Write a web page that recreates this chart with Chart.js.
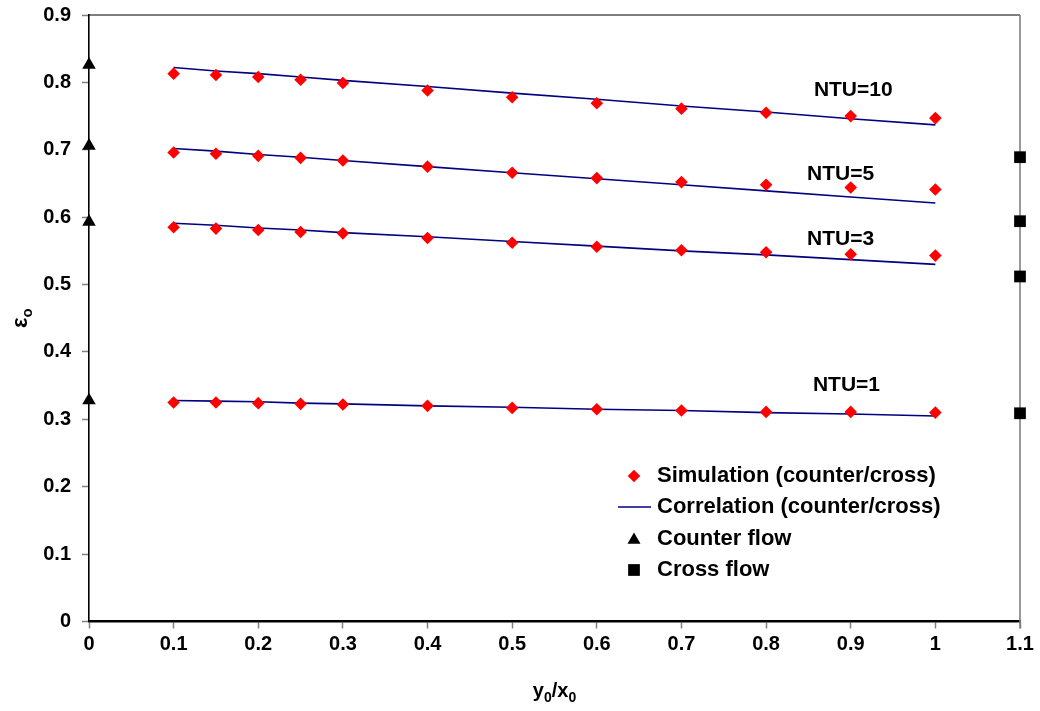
<!DOCTYPE html>
<html>
<head>
<meta charset="utf-8">
<script src="https://cdn.jsdelivr.net/npm/chart.js@4/dist/chart.umd.min.js"></script>
<style>
  body { margin: 0; background: #fff; }
  #wrap { width: 1040px; height: 711px; }
</style>
</head>
<body>
<div id="wrap"><canvas id="chartEff" width="1040" height="711"></canvas></div>
<script>
const FONT = "'Liberation Sans', Arial, sans-serif";

// y0/x0 values where simulations and correlations were evaluated
const ratios = [0.1, 0.15, 0.2, 0.25, 0.3, 0.4, 0.5, 0.6, 0.7, 0.8, 0.9, 1.0];

// simulated effectiveness (counter/cross)
const sim10 = [0.813, 0.811, 0.808, 0.804, 0.799, 0.788, 0.778, 0.769, 0.761, 0.755, 0.750, 0.747];
const sim5  = [0.696, 0.694, 0.691, 0.688, 0.684, 0.675, 0.666, 0.658, 0.652, 0.648, 0.644, 0.641];
const sim3  = [0.585, 0.583, 0.581, 0.578, 0.576, 0.569, 0.562, 0.556, 0.551, 0.548, 0.545, 0.543];
const sim1  = [0.325, 0.325, 0.324, 0.323, 0.322, 0.320, 0.317, 0.315, 0.313, 0.311, 0.311, 0.310];

// correlation curves
const corr10 = [0.822, 0.817, 0.813, 0.808, 0.803, 0.794, 0.784, 0.775, 0.765, 0.756, 0.746, 0.737];
const corr5  = [0.702, 0.698, 0.693, 0.689, 0.684, 0.675, 0.666, 0.657, 0.648, 0.639, 0.630, 0.621];
const corr3  = [0.591, 0.588, 0.584, 0.581, 0.577, 0.571, 0.564, 0.557, 0.550, 0.544, 0.537, 0.530];
const corr1  = [0.328, 0.327, 0.326, 0.324, 0.323, 0.320, 0.318, 0.315, 0.313, 0.310, 0.308, 0.305];

// pure counter flow (at y0/x0 = 0) and cross flow (plotted at 1.1)
const counterX = 0;
const counterFlow = [0.826, 0.706, 0.593, 0.328];
const crossX = 1.1;
const crossFlow = [0.689, 0.594, 0.512, 0.309];

// curve labels: text, x, y in data units
const ntuLabels = [
    ['NTU=10', 0.903, 0.788],
    ['NTU=5', 0.888, 0.664],
    ['NTU=3', 0.888, 0.568],
    ['NTU=1', 0.895, 0.351]
];

const legendLabels = ['Simulation (counter/cross)', 'Correlation (counter/cross)', 'Counter flow', 'Cross flow'];

const RED = 'rgb(255, 0, 0)';
const NAVY = 'rgb(0, 0, 128)';

function xy(xs, ys) {
    return ys.map((v, i) => ({ x: Array.isArray(xs) ? xs[i] : xs, y: v }));
}

function simSet(vals) {
    return {
        type: 'scatter',
        label: legendLabels[0],
        data: xy(ratios, vals),
        pointStyle: 'rectRot',
        pointRadius: 6.3,
        backgroundColor: RED,
        borderColor: RED,
        borderWidth: 0,
        clip: false,
        order: 1
    };
}

function corrSet(vals) {
    return {
        type: 'line',
        label: legendLabels[1],
        data: xy(ratios, vals),
        borderColor: NAVY,
        borderWidth: 1.6,
        pointRadius: 0,
        fill: false,
        tension: 0,
        order: 2
    };
}

// top and right frame of the plot area
const frame = {
    id: 'frame',
    beforeDatasetsDraw(chart) {
        const { ctx, chartArea: a } = chart;
        ctx.save();
        ctx.strokeStyle = '#000';
        ctx.lineWidth = 1.2;
        ctx.beginPath();
        ctx.moveTo(a.left, a.top);
        ctx.lineTo(a.right, a.top);
        ctx.stroke();
        ctx.strokeStyle = '#808080';
        ctx.lineWidth = 1.6;
        ctx.beginPath();
        ctx.moveTo(a.right, a.top);
        ctx.lineTo(a.right, a.bottom + 7);
        ctx.stroke();
        ctx.restore();
    }
};

// axis titles with subscripts, NTU labels and the legend box
const annotations = {
    id: 'annotations',
    afterDraw(chart) {
        const { ctx, chartArea: a, scales } = chart;
        ctx.save();
        ctx.fillStyle = '#000';
        ctx.textBaseline = 'middle';

        // NTU labels
        ctx.textAlign = 'center';
        ctx.font = 'bold 21px ' + FONT;
        ntuLabels.forEach(([t, x, y]) => {
            ctx.fillText(t, scales.x.getPixelForValue(x), scales.y.getPixelForValue(y));
        });

        // x title: y0/x0
        ctx.textAlign = 'left';
        ctx.textBaseline = 'alphabetic';
        const big = 'bold 20px ' + FONT, small = 'bold 14px ' + FONT;
        const parts = [['y', big, 0], ['0', small, 5], ['/x', big, 0], ['0', small, 5]];
        let w = 0;
        parts.forEach(([t, f]) => { ctx.font = f; w += ctx.measureText(t).width; });
        let px = (a.left + a.right) / 2 - w / 2;
        const base = 697;
        parts.forEach(([t, f, dy]) => {
            ctx.font = f;
            ctx.fillText(t, px, base + dy);
            px += ctx.measureText(t).width;
        });

        // y title: epsilon with subscript o, rotated
        ctx.translate(27, (a.top + a.bottom) / 2);
        ctx.rotate(-Math.PI / 2);
        ctx.font = 'bold 22px ' + FONT;
        const ew = ctx.measureText('ε').width;
        ctx.font = 'bold 15px ' + FONT;
        const ow = ctx.measureText('o').width;
        let sx = -(ew + ow) / 2;
        ctx.font = 'bold 22px ' + FONT;
        ctx.fillText('ε', sx, 0);
        ctx.font = 'bold 15px ' + FONT;
        ctx.fillText('o', sx + ew, 5);
        ctx.restore();

        // legend
        ctx.save();
        const rows = [476, 507, 539, 570];
        const mx = 634, tx = 657;
        const H = Chart.helpers;
        ctx.fillStyle = RED;
        ctx.strokeStyle = RED;
        H.drawPoint(ctx, { pointStyle: 'rectRot', radius: 6.3, rotation: 0, borderWidth: 0 }, mx, rows[0]);
        ctx.strokeStyle = NAVY;
        ctx.lineWidth = 1.6;
        ctx.beginPath();
        ctx.moveTo(618, rows[1]);
        ctx.lineTo(651, rows[1]);
        ctx.stroke();
        ctx.fillStyle = '#000';
        ctx.strokeStyle = '#000';
        H.drawPoint(ctx, { pointStyle: 'triangle', radius: 7.5, rotation: 0, borderWidth: 0 }, mx, rows[2] + 1);
        H.drawPoint(ctx, { pointStyle: 'rect', radius: 8.3, rotation: 0, borderWidth: 0 }, mx, rows[3]);
        ctx.font = 'bold 22px ' + FONT;
        ctx.textAlign = 'left';
        ctx.textBaseline = 'middle';
        legendLabels.forEach((t, i) => ctx.fillText(t, tx, rows[i]));
        ctx.restore();
    }
};

const data = {
    datasets: [
        corrSet(corr10), corrSet(corr5), corrSet(corr3), corrSet(corr1),
        simSet(sim10), simSet(sim5), simSet(sim3), simSet(sim1),
        {
            type: 'scatter',
            label: legendLabels[2],
            data: xy(counterX, counterFlow),
            pointStyle: 'triangle',
            pointRadius: 7.8,
            backgroundColor: '#000',
            borderColor: '#000',
            borderWidth: 0,
            clip: false,
            order: 0
        }, {
            type: 'scatter',
            label: legendLabels[3],
            data: xy(crossX, crossFlow),
            pointStyle: 'rect',
            pointRadius: 8.3,
            backgroundColor: '#000',
            borderColor: '#000',
            borderWidth: 0,
            clip: false,
            order: 0
        }
    ]
};

const tickFmt = v => String(Number(v.toFixed(1)));

// fixed axis sizes; drop the label overflow padding so the plot box stays put
function fitX(s) {
    s.height = 89.5;
    s.paddingLeft = 0;
    s.paddingRight = 0;
}
function fitY(s) {
    s.width = 89;
    s.paddingTop = 0;
    s.paddingBottom = 0;
}

const config = {
    type: 'scatter',
    data: data,
    options: {
        responsive: false,
        animation: false,
        layout: { padding: { top: 15, right: 20, left: 0, bottom: 0 } },
        plugins: {
            legend: { display: false },
            tooltip: { enabled: false }
        },
        scales: {
            x: {
                type: 'linear',
                min: 0,
                max: 1.1,
                afterFit: fitX,
                ticks: {
                    stepSize: 0.1,
                    autoSkip: false,
                    maxRotation: 0,
                    padding: 4,
                    color: '#000',
                    font: { family: FONT, size: 20, weight: 'bold' },
                    callback: tickFmt
                },
                grid: { drawOnChartArea: false, tickLength: 7, color: '#808080', tickWidth: 1.5 },
                border: { color: '#000', width: 2.5 }
            },
            y: {
                min: 0,
                max: 0.9,
                afterFit: fitY,
                ticks: {
                    stepSize: 0.1,
                    padding: 11,
                    color: '#000',
                    font: { family: FONT, size: 20, weight: 'bold' },
                    callback: tickFmt
                },
                grid: { drawOnChartArea: false, tickLength: 7, color: '#808080', tickWidth: 1.5 },
                border: { color: '#000', width: 1.6 }
            }
        }
    },
    plugins: [frame, annotations]
};

let ctx = document.getElementById('chartEff').getContext('2d');
new Chart(ctx, config);
</script>
</body>
</html>
